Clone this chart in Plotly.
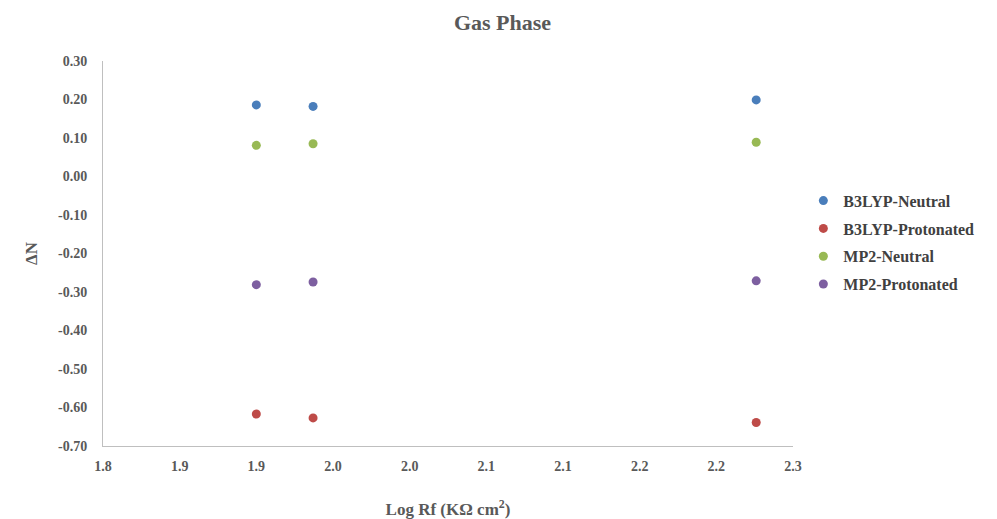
import plotly.graph_objects as go

log_rf = [1.900, 1.937, 2.226]
b3lyp_neutral = [0.186, 0.182, 0.199]
b3lyp_protonated = [-0.617, -0.627, -0.639]
mp2_neutral = [0.081, 0.085, 0.089]
mp2_protonated = [-0.281, -0.274, -0.271]

series_names = ["B3LYP-Neutral", "B3LYP-Protonated", "MP2-Neutral", "MP2-Protonated"]
series_colors = ["#4a7ebb", "#be4b48", "#98b954", "#7d5fa0"]

x_tickvals = [1.80, 1.85, 1.90, 1.95, 2.00, 2.05, 2.10, 2.15, 2.20, 2.25]
x_ticktext = ["1.8", "1.9", "1.9", "2.0", "2.0", "2.1", "2.1", "2.2", "2.2", "2.3"]
y_tickvals = [0.3, 0.2, 0.1, 0.0, -0.1, -0.2, -0.3, -0.4, -0.5, -0.6, -0.7]
y_ticktext = ["0.30", "0.20", "0.10", "0.00", "-0.10", "-0.20", "-0.30", "-0.40", "-0.50", "-0.60", "-0.70"]

font_family = "Liberation Serif, Times New Roman, serif"
grey = "#595959"

fig = go.Figure()
for name, vals, col in zip(series_names,
                           [b3lyp_neutral, b3lyp_protonated, mp2_neutral, mp2_protonated],
                           series_colors):
    fig.add_trace(go.Scatter(x=log_rf, y=vals, mode="markers", name=name, legendgroup=name,
                             marker=dict(color=col, size=9, line=dict(width=0))))

fig.update_layout(
    width=989, height=511,
    paper_bgcolor="white", plot_bgcolor="white",
    margin=dict(l=95, r=204, t=53, b=73),
    title=dict(text="<b>Gas Phase</b>", x=0.5, xanchor="center", y=0.972, yanchor="middle",
               font=dict(family=font_family, size=22, color=grey)),
    font=dict(family=font_family, color=grey),
    showlegend=True,
    legend=dict(x=1.015, xanchor="left", y=0.528, yanchor="middle",
                font=dict(family=font_family, size=16, color="#404040", weight="bold"),
                itemwidth=30, tracegroupgap=4, bgcolor="rgba(0,0,0,0)"),
)
fig.update_xaxes(range=[1.8, 2.25], tickvals=x_tickvals, ticktext=x_ticktext,
                 showgrid=False, zeroline=False, showline=True, linecolor="#bfbfbf", linewidth=1,
                 ticks="", ticklabelstandoff=7, automargin=False,
                 tickfont=dict(family=font_family, size=14, color=grey, weight="bold"),
                 title=dict(text="<b>Log Rf (KΩ cm<sup>2</sup>)</b>", standoff=38,
                            font=dict(family=font_family, size=17, color=grey)))
fig.update_yaxes(range=[-0.7, 0.3], tickvals=y_tickvals, ticktext=y_ticktext,
                 showgrid=False, zeroline=False, showline=True, linecolor="#bfbfbf", linewidth=1,
                 ticks="", ticklabelstandoff=12, automargin=False,
                 tickfont=dict(family=font_family, size=14, color=grey, weight="bold"),
                 title=dict(text="<b>ΔN</b>", standoff=16,
                            font=dict(family=font_family, size=17, color=grey)))

fig.write_html("out.html")
